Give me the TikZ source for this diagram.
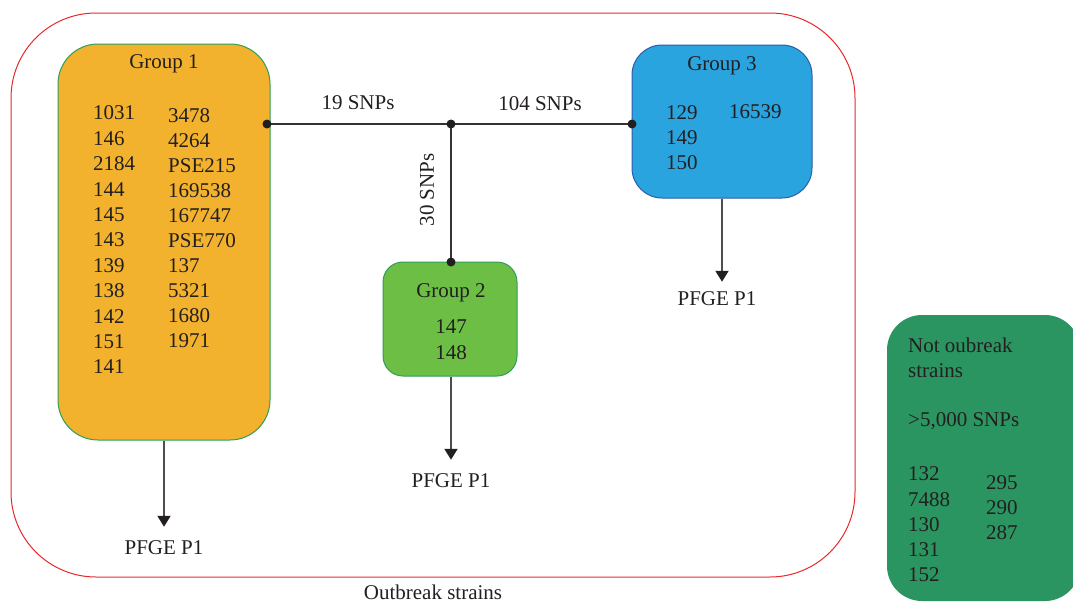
\documentclass[tikz,border=0pt]{standalone}
\usepackage{fontspec}
\setmainfont{Liberation Serif}
\usetikzlibrary{arrows.meta,calc}

\definecolor{inkc}{HTML}{231F20}
\definecolor{redc}{HTML}{E8282B}
\definecolor{orangec}{HTML}{F3B22D}
\definecolor{greenline}{HTML}{2E9E58}
\definecolor{limec}{HTML}{6CBE45}
\definecolor{bluec}{HTML}{29A4DE}
\definecolor{blueline}{HTML}{2E5DA8}
\definecolor{darkgreen}{HTML}{2B9561}
\definecolor{linkc}{HTML}{333333}
\definecolor{arrowc}{HTML}{4D4D4D}

\tikzset{
  txt/.style={inner sep=0pt, text=inkc, font=\fontsize{21}{25}\selectfont},
  groupbox/.style={draw, line width=1pt, inner sep=0pt},
  link/.style={draw=linkc, line width=1.5pt},
  dotc/.style={fill=inkc},
  pfge/.style={draw=arrowc, line width=2pt, -{Triangle[width=13pt,length=11pt,fill=inkc,color=inkc]}},
}

\begin{document}
\begin{tikzpicture}[x=1pt,y=-1pt]
\useasboundingbox (0,0) rectangle (1073,603);

% outbreak frame
\node[draw=redc, line width=1pt, rounded corners=85pt, minimum width=844pt,
      minimum height=564pt, inner sep=0pt] (outer) at (433,295) {};
\node[txt] (outlbl) at (433,592) {Outbreak strains};

% group boxes
\node[groupbox, draw=greenline, fill=orangec, rounded corners=40pt,
      minimum width=212pt, minimum height=396pt] (g1) at (164,242) {};
\node[groupbox, draw=greenline, fill=limec, rounded corners=20pt,
      minimum width=134pt, minimum height=114pt] (g2) at (450,319) {};
\node[groupbox, draw=blueline, fill=bluec, rounded corners=30pt,
      minimum width=180pt, minimum height=153pt] (g3) at (722,121.5) {};
\node[fill=darkgreen, rounded corners=35pt, inner sep=0pt,
      minimum width=193pt, minimum height=286pt] (nob) at (983.5,458) {};

% group titles
\node[txt] (g1t) at (164,64) {Group 1};
\node[txt] (g2t) at (451,293) {Group 2};
\node[txt] (g3t) at (722,66) {Group 3};

% group 1 members
\foreach \s [count=\i from 0] in {1031,146,2184,144,145,143,139,138,142,151,141}
  \node[txt, anchor=west] (g1a\i) at (93,113+25.4*\i) {\s};
\foreach \s [count=\i from 0] in {3478,4264,PSE215,169538,167747,PSE770,137,5321,1680,1971}
  \node[txt, anchor=west] (g1b\i) at (168,116+25.0*\i) {\s};

% group 2 members
\node[txt] (g2a) at (451,327) {147};
\node[txt] (g2b) at (451,353) {148};

% group 3 members
\foreach \s [count=\i from 0] in {129,149,150}
  \node[txt, anchor=west] (g3a\i) at (666,113+25*\i) {\s};
\node[txt, anchor=west] (g3b) at (729,112) {16539};

% non-outbreak strains
\node[txt, anchor=west] (nob1) at (908,345) {Not oubreak};
\node[txt, anchor=west] (nob2) at (908,371) {strains};
\node[txt, anchor=west] (nob3) at (908,421) {>5,000 SNPs};
\foreach \s [count=\i from 0] in {132,7488,130,131,152}
  \node[txt, anchor=west] (noba\i) at (908,474+25.2*\i) {\s};
\foreach \s [count=\i from 0] in {295,290,287}
  \node[txt, anchor=west] (nobb\i) at (986,483+25*\i) {\s};

% SNP distance tree
\coordinate (d1) at (267,124);
\coordinate (jn) at (451,124);
\coordinate (d3) at (632,124);
\coordinate (d2) at (451,262);
\draw[link] (d1) -- (jn) -- (d3);
\draw[link] (jn) -- (d2);
\foreach \p in {d1,jn,d3,d2} \fill[dotc] (\p) circle (4.5pt);
\node[txt] (l19) at (358,103) {19 SNPs};
\node[txt] (l104) at (540,104) {104 SNPs};
\node[txt, rotate=90] (l30) at (427,190) {30 SNPs};

% PFGE outcomes
\node[txt] (pf1) at (164,548) {PFGE P1};
\node[txt] (pf2) at (451,481) {PFGE P1};
\node[txt] (pf3) at (717,299) {PFGE P1};
\draw[pfge, shorten >=14pt] (g1.south) -- (g1.south |- pf1.north);
\draw[pfge, shorten >=14pt] (g2.south -| d2) -- (d2 |- pf2.north);
\draw[pfge, shorten >=10pt] (g3.south) -- (g3.south |- pf3.north);
\end{tikzpicture}
\end{document}
